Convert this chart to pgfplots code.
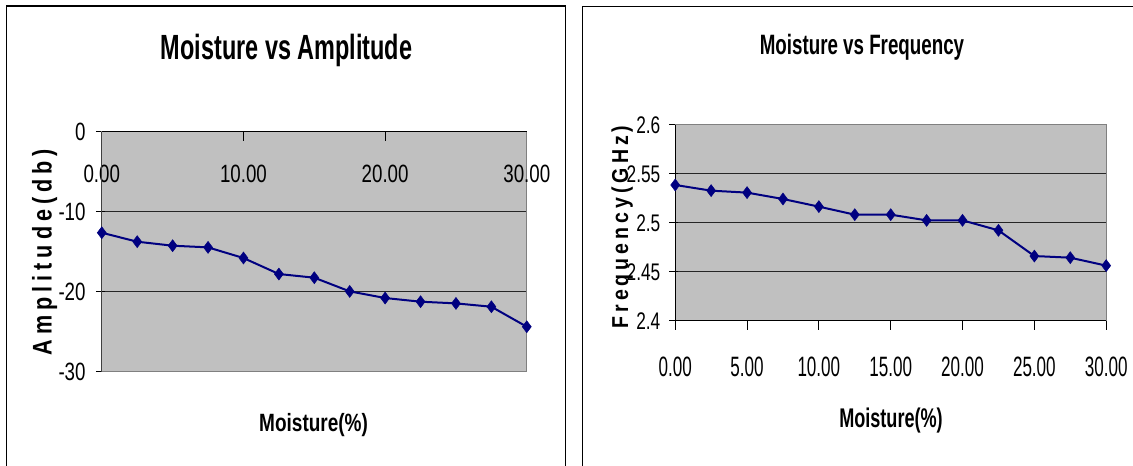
\documentclass[border=0pt]{standalone}
\usepackage{fontspec}
\usepackage{pgfplots}
\pgfplotsset{compat=1.18}
\setmainfont{Liberation Sans}
\newfontfamily\fA{Liberation Sans}[FakeStretch=0.75]
\newfontfamily\fB{Liberation Sans}[FakeStretch=0.61]
\newfontfamily\fC{Liberation Sans}[FakeStretch=0.72]
\newfontfamily\fT{Liberation Sans}[FakeStretch=0.67]
\newfontfamily\fX{Liberation Sans}[FakeStretch=0.76]
\newfontfamily\fXb{Liberation Sans}[FakeStretch=0.67]
\newfontfamily\fL{Liberation Sans}[FakeStretch=0.8]
\newfontfamily\fR{Liberation Sans}[FakeStretch=0.85]
\newcommand\ga{\kern5pt}
\newcommand\gb{\kern4pt}
\definecolor{plotbg}{HTML}{C0C0C0}
\definecolor{navy}{HTML}{000080}

\pgfplotstableread{
x y
0 -12.63
2.5 -13.75
5 -14.25
7.5 -14.46
10 -15.79
12.5 -17.79
15 -18.25
17.5 -19.96
20 -20.79
22.5 -21.25
25 -21.46
27.5 -21.88
30 -24.38
}\amptable

\pgfplotstableread{
x y
0 2.5388
2.5 2.533
5 2.531
7.5 2.5245
10 2.5167
12.5 2.5085
15 2.5085
17.5 2.5027
20 2.5027
22.5 2.4925
25 2.4663
27.5 2.4646
30 2.4565
}\freqtable

\pgfplotsset{
  chartstyle/.style={
    anchor=south west, scale only axis, clip=false,
    axis background/.style={fill=plotbg},
    axis line style={draw=gray, line width=1pt},
    ymajorgrids,
    major grid style={black!85, line width=1pt},
    major tick length=9pt,
    tick style={black, line width=1pt},
    tick align=inside,
    /pgf/number format/assume math mode=true,
    ytick pos=left,
    ytick style={xshift=-6pt},
  },
  datastyle/.style={
    navy, line width=2pt, mark=diamond*, mark size=6pt,
    mark options={fill=navy, draw=navy, line width=0.5pt}
  }
}

\begin{document}
\begin{tikzpicture}[x=1pt,y=1pt]
\useasboundingbox (0,0) rectangle (1133,466);
\begin{scope}
\clip (0,0) rectangle (1133,466);
\draw[line width=1.3pt] (6.5,460) rectangle (565.3,-20);
\draw[line width=1.3pt] (582.8,459.5) rectangle (1150,-20);
\end{scope}

% ---------- left chart ----------
\begin{axis}[chartstyle,
  at={(101.8pt,94.3pt)}, width=425pt, height=240pt,
  xmin=0, xmax=30, ymin=-30, ymax=0,
  xtick={0,10,20,30}, ytick={-30,-20,-10,0},
  xtick pos=right, xticklabel pos=right,
  xticklabel={\pgfmathprintnumber[fixed,fixed zerofill,precision=2]{\tick}},
  xticklabel style={font=\fA\fontsize{25}{25}\selectfont, anchor=center, inner sep=0pt, yshift=-42.3pt},
  yticklabel style={font=\fA\fontsize{25}{25}\selectfont, anchor=east, inner sep=0pt, xshift=-16pt},
]
\draw[black!75, line width=1pt] (rel axis cs:0,0) -- (rel axis cs:0,1);
\draw[black, line width=1pt] (rel axis cs:0,1) -- (rel axis cs:1,1);
\addplot[datastyle] table[x=x,y=y] {\amptable};
\end{axis}

% ---------- right chart ----------
\begin{axis}[chartstyle,
  at={(675.2pt,145pt)}, width=431pt, height=196pt,
  xmin=0, xmax=30, ymin=2.4, ymax=2.6,
  xtick={0,5,10,15,20,25,30}, ytick={2.4,2.45,2.5,2.55,2.6},
  xtick pos=left, xticklabel pos=left,
  xtick style={yshift=-9pt},
  xticklabel={\pgfmathprintnumber[fixed,fixed zerofill,precision=2]{\tick}},
  xticklabel style={font=\fB\fontsize{28}{28}\selectfont, anchor=center, inner sep=0pt, yshift=-45.7pt},
  yticklabel style={font=\fC\fontsize{24}{24}\selectfont, anchor=east, inner sep=0pt, xshift=-14.7pt},
]
\draw[black, line width=1pt] (rel axis cs:0,1) -- (rel axis cs:0,0) -- (rel axis cs:1,0);
\addplot[datastyle] table[x=x,y=y] {\freqtable};
\end{axis}

% ---------- titles and labels ----------
\node[font=\fT\bfseries\fontsize{35}{35}\selectfont, anchor=base, inner sep=0pt] at (286.6,406) {Moisture vs Amplitude};
\node[font=\fT\bfseries\fontsize{28}{28}\selectfont, anchor=base, inner sep=0pt] at (862,411) {Moisture vs Frequency};
\node[font=\fX\bfseries\fontsize{25}{25}\selectfont, anchor=base, inner sep=0pt] at (313.6,34.3) {Moisture(\%)};
\node[font=\fXb\bfseries\fontsize{27}{27}\selectfont, anchor=base, inner sep=0pt] at (891,38) {Moisture(\%)};
\node[font=\fL\bfseries\fontsize{27}{27}\selectfont, rotate=90, anchor=base, inner sep=0pt] at (51.7,214)
  {A\ga m\ga p\ga l\ga i\ga t\ga u\ga d\ga e\ga (\ga d\ga b\ga )};
\node[font=\fR\bfseries\fontsize{23}{23}\selectfont, rotate=90, anchor=base, inner sep=0pt] at (628,239)
  {F\gb r\gb e\gb q\gb u\gb e\gb n\gb c\gb y\gb (\gb G\gb H\gb z\gb )};
\end{tikzpicture}
\end{document}
